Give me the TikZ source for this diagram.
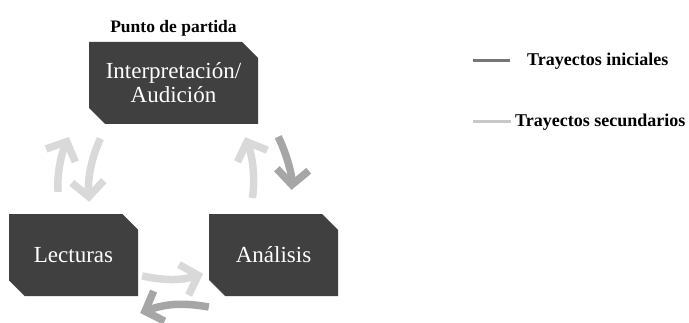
\documentclass[tikz,border=0pt]{standalone}
\usepackage{fontspec}
\setmainfont{Liberation Serif}
\usetikzlibrary{arrows.meta,shapes.misc,positioning}
\definecolor{boxgray}{HTML}{404040}
\definecolor{waydark}{HTML}{A6A6A6}
\definecolor{waylight}{HTML}{D9D9D9}
\definecolor{keydark}{HTML}{767676}
\definecolor{keylight}{HTML}{C8C8C8}
\tikzset{
  stage/.style={%
    chamfered rectangle,
    chamfered rectangle corners={north east,south west},
    chamfered rectangle xsep=8pt,
    chamfered rectangle ysep=8pt,
    fill=boxgray, text=white, inner sep=0pt,
    minimum width=129pt, minimum height=82pt,
    align=center, font=\fontsize{23}{24}\selectfont
  },
  firstway/.style={draw=waydark, line width=7.5pt,
    -{Straight Barb[length=15pt,width=32pt]}},
  nextway/.style={firstway, draw=waylight},
  key/.style={anchor=west, inner sep=0pt, font=\bfseries\fontsize{18}{20}\selectfont}
}
\begin{document}
\begin{tikzpicture}[x=1pt,y=1pt]
\useasboundingbox (0,0) rectangle (689,322);
\node[stage, minimum width=169pt] (play) at (173.5,239) {Interpretación/\\Audición};
\node[stage] (read) at (73.5,67) {Lecturas};
\node[stage] (anal) at (273.5,67) {Análisis};
\node[above=5pt of play, inner sep=0pt, font=\bfseries\fontsize{17.5}{20}\selectfont] (start) {Punto de partida};
% trayectos
\draw[nextway, shorten <=22pt, shorten >=14pt] ([xshift=-13pt]read.north) to[bend left=15] ([xshift=-99pt]play.south);
\draw[nextway, shorten <=16pt, shorten >=12pt] ([xshift=-66pt]play.south) to[bend right=15] ([xshift=16.5pt]read.north);
\draw[nextway, shorten <=16pt, shorten >=14pt] ([xshift=-23.5pt]anal.north) to[bend right=15] ([xshift=66.5pt]play.south);
\draw[firstway, shorten <=14pt, shorten >=24pt] ([xshift=98.5pt]play.south) to[bend left=15] ([xshift=16.5pt]anal.north);
\draw[nextway, shorten <=4pt, shorten >=6pt] ([yshift=-20pt]read.east) to[bend right=15] ([yshift=-17pt]anal.west);
\draw[firstway] ([yshift=-52pt]anal.west) to[bend right=15] ([xshift=2pt,yshift=-58pt]read.east);
% leyenda
\node[key] (first) at (527,261) {Trayectos iniciales};
\node[key] (next) at (515,200) {Trayectos secundarios};
\draw[keydark, line width=3pt] ([xshift=-17pt]first.west) -- ++(-37pt,0);
\draw[keylight, line width=3pt] ([xshift=-4pt]next.west) -- ++(-38pt,0);
\end{tikzpicture}
\end{document}
